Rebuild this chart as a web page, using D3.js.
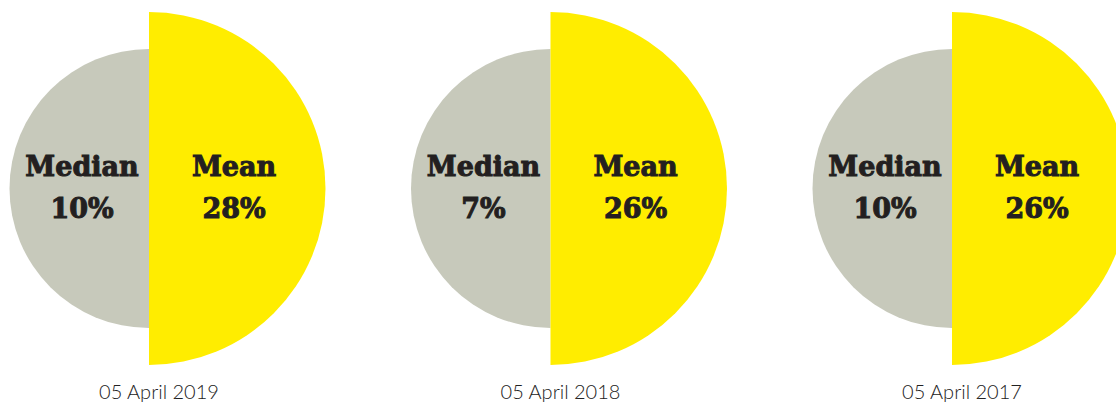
<!DOCTYPE html>
<html>
<head>
    <meta charset="utf-8">
    <style>
        body {
            margin: 0;
            background-color: #ffffff;
        }

        .label {
            font-family: "DejaVu Serif", serif;
            font-weight: bold;
            font-size: 27px;
            fill: #231f20;
            stroke: #231f20;
            stroke-width: 1px;
            text-anchor: middle;
        }

        .date {
            font-family: Lato, "Open Sans", sans-serif;
            font-weight: 300;
            font-size: 20px;
            fill: #222222;
            text-anchor: middle;
        }
    </style>
</head>
<body>
    <div id="chart"></div>

    <script src="https://d3js.org/d3.v7.min.js"></script>
    <script>
        // values
        var dates = ["05 April 2019", "05 April 2018", "05 April 2017"];
        var medians = [10, 7, 10];
        var means = [28, 26, 26];

        var width = 1116, height = 403;

        var svg = d3.select("#chart").append("svg")
            .attr("width", width)
            .attr("height", height);

        // where the two halves meet, one per date
        var x = d3.scalePoint()
            .domain(dates)
            .range([149, 952]);

        var cy = 188.5;

        // both halves have a fixed size in the original
        var radius = d3.scaleOrdinal()
            .domain(["median", "mean"])
            .range([139.5, 176.5]);

        var colour = d3.scaleOrdinal()
            .domain(["median", "mean"])
            .range(["#c7c9bb", "#ffed00"]);

        var arc = d3.arc().innerRadius(0);

        var rows = dates.map(function (d, i) {
            return { date: d, median: medians[i], mean: means[i] };
        });

        var g = svg.selectAll("g.pair")
            .data(rows)
            .enter()
            .append("g")
            .attr("class", "pair")
            .attr("transform", d => "translate(" + x(d.date) + "," + cy + ")");

        // grey half on the left for the median
        g.append("path")
            .attr("d", () => arc({ outerRadius: radius("median"), startAngle: Math.PI, endAngle: 2 * Math.PI }))
            .attr("fill", colour("median"));

        // yellow half on the right for the mean
        g.append("path")
            .attr("d", () => arc({ outerRadius: radius("mean"), startAngle: 0, endAngle: Math.PI }))
            .attr("fill", colour("mean"));

        g.append("text")
            .attr("class", "label")
            .attr("x", -67)
            .attr("y", -12.5)
            .text("Median");

        g.append("text")
            .attr("class", "label")
            .attr("x", -67)
            .attr("y", 29.5)
            .text(d => d.median + "%");

        g.append("text")
            .attr("class", "label")
            .attr("x", 85)
            .attr("y", -12.5)
            .text("Mean");

        g.append("text")
            .attr("class", "label")
            .attr("x", 85)
            .attr("y", 29.5)
            .text(d => d.mean + "%");

        g.append("text")
            .attr("class", "date")
            .attr("x", 10)
            .attr("y", 399 - cy)
            .text(d => d.date);
    </script>
</body>
</html>
